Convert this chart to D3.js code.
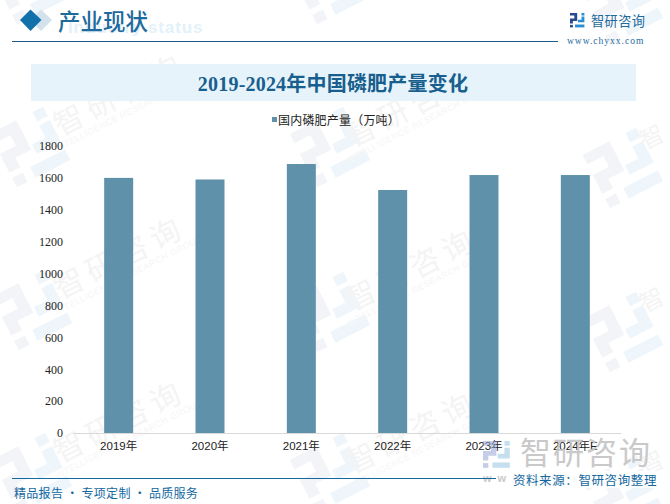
<!DOCTYPE html>
<html>
<head>
<meta charset="utf-8">
<script src="https://cdn.jsdelivr.net/npm/d3@7"></script>
<style>
  html, body { margin: 0; padding: 0; background: #fff; }
  svg { display: block; }
</style>
</head>
<body>
<script>
var categories = ["2019年", "2020年", "2021年", "2022年", "2023年", "2024年E"];
var output = [1600, 1590, 1687, 1524, 1618, 1618];
var yTicks = [0, 200, 400, 600, 800, 1000, 1200, 1400, 1600, 1800];

// watermark spots, logo and wordmark repeat across the page
var logoSpots = [[30, -16], [330, -16], [623, 5], [30, 147], [330, 147], [623, 168], [32, 310], [330, 312], [623, 332], [32, 473], [330, 473], [623, 495]];
var wordSpots = [[120, 95], [412, 106], [120, 258], [412, 270], [120, 422], [412, 433]];
var edgeSpots = [[660, 140], [660, 303], [660, 466]];

var width = 670,
    height = 504,
    cjk = "'Noto Sans CJK SC', sans-serif";

var svg = d3.select("body").append("svg")
    .attr("width", width)
    .attr("height", height);

// logo is two interlocking brackets, drawn on a 40 unit box
function drawLogo(g, c1, c2) {
  g.append("path").attr("fill", c1)
      .attr("d", "M0 0H20V22H8V29H0V15H12V7H0Z");
  g.append("rect").attr("fill", c1).attr("x", 0).attr("y", 33).attr("width", 8).attr("height", 7);
  g.append("path").attr("fill", c2)
      .attr("d", "M32 10H40V26H22V19H32Z");
  g.append("rect").attr("fill", c2).attr("x", 14).attr("y", 32).attr("width", 26).attr("height", 8);
  g.append("rect").attr("fill", c2).attr("x", 32).attr("y", 0).attr("width", 8).attr("height", 7);
}

var wm = svg.append("g");
logoSpots.forEach(function(p) {
  var g = wm.append("g")
      .attr("transform", "translate(" + p[0] + "," + p[1] + ") rotate(-27) scale(1.5) translate(-20,-20)");
  drawLogo(g, "#f2f4f8", "#eff6fb");
});
wordSpots.forEach(function(p) {
  var g = wm.append("g")
      .attr("transform", "translate(" + p[0] + "," + p[1] + ") rotate(-27)");
  g.append("text")
      .attr("y", 10)
      .attr("text-anchor", "middle")
      .attr("font-family", cjk)
      .attr("font-size", 30)
      .attr("letter-spacing", 6)
      .attr("fill", "#f4f4f4")
      .text("智研咨询");
  g.append("text")
      .attr("x", 0).attr("y", 22)
      .attr("text-anchor", "middle")
      .attr("font-family", "'Liberation Sans', sans-serif")
      .attr("font-size", 9)
      .attr("letter-spacing", 0.4)
      .attr("fill", "#f6f6f6")
      .text("INTELLIGENCE RESEARCH GROUP");
});
// at the right edge only the first character still fits
edgeSpots.forEach(function(p) {
  wm.append("text")
      .attr("transform", "translate(" + (p[0] - 15) + "," + (p[1] + 10) + ") rotate(-27)")
      .attr("font-family", cjk)
      .attr("font-size", 24)
      .attr("fill", "#f4f4f4")
      .text("智");
});

// header
svg.append("text")
    .attr("x", 68).attr("y", 33)
    .attr("font-family", "'Liberation Sans', sans-serif")
    .attr("font-weight", "bold")
    .attr("font-size", 17)
    .attr("letter-spacing", 0.9)
    .attr("fill", "#e3f1fa")
    .text("Industry status");
svg.append("path").attr("fill", "#d2e3ee").attr("d", "M41 9.500L52 20L41 31L30 20Z");
svg.append("path").attr("fill", "#1270ab").attr("d", "M30.500 9.500L41.500 20L30.500 31L20 20Z");
svg.append("text")
    .attr("x", 58).attr("y", 29.500)
    .attr("font-family", cjk)
    .attr("font-size", 22.500)
    .attr("font-weight", 500)
    .attr("fill", "#1d6a9c")
    .text("产业现状");
svg.append("line")
    .attr("x1", 12).attr("x2", 558).attr("y1", 41.500).attr("y2", 41.500)
    .attr("stroke", "#1c5c86").attr("stroke-width", 1);

// top right brand
var brand = svg.append("g").attr("transform", "translate(570,13) scale(0.36)");
drawLogo(brand, "#2a4a8f", "#2a8fd0");
svg.append("text")
    .attr("x", 591).attr("y", 26)
    .attr("font-family", cjk)
    .attr("font-size", 13.200)
    .attr("letter-spacing", 0.4)
    .attr("fill", "#1d6a9c")
    .text("智研咨询");
svg.append("text")
    .attr("x", 567).attr("y", 44)
    .attr("font-family", "'Liberation Serif', serif")
    .attr("font-size", 9.500)
    .attr("letter-spacing", 1)
    .attr("fill", "#1d6a9c")
    .text("www.chyxx.com");

// title band
svg.append("rect")
    .attr("x", 31).attr("y", 64).attr("width", 605).attr("height", 37)
    .attr("fill", "#e6f3fb");
svg.append("text")
    .attr("x", 333).attr("y", 91)
    .attr("text-anchor", "middle")
    .attr("font-family", "'Liberation Serif', 'Noto Sans CJK SC', serif")
    .attr("font-weight", "bold")
    .attr("font-size", 20)
    .attr("letter-spacing", 0.2)
    .attr("fill", "#185f8e")
    .text("2019-2024年中国磷肥产量变化");

// legend
svg.append("rect")
    .attr("x", 272).attr("y", 117).attr("width", 5).attr("height", 5)
    .attr("fill", "#5f92aa");
svg.append("text")
    .attr("x", 278).attr("y", 125)
    .attr("font-family", cjk)
    .attr("font-size", 12)
    .attr("letter-spacing", 0.2)
    .attr("fill", "#222")
    .text("国内磷肥产量（万吨）");

// chart
var x = d3.scaleBand().domain(categories).range([73, 621]);
var y = d3.scaleLinear().domain([0, 1800]).range([433, 146]);

svg.append("g")
    .selectAll("rect")
    .data(output)
    .join("rect")
    .attr("x", function(d, i) { return x(categories[i]) + x.bandwidth() / 2 - 14.500; })
    .attr("y", function(d) { return y(d); })
    .attr("width", 29)
    .attr("height", function(d) { return y(0) - y(d); })
    .attr("fill", "#5f92aa");

var xAxis = svg.append("g")
    .attr("transform", "translate(0,433)")
    .call(d3.axisBottom(x).tickSize(0).tickPadding(9));
xAxis.select(".domain").attr("stroke", "#d9d9d9").attr("stroke-width", 1.2);
xAxis.selectAll("text")
    .attr("font-family", "'Liberation Sans', 'Noto Sans CJK SC', sans-serif")
    .attr("font-size", 11.500)
    .attr("fill", "#222");

var yAxis = svg.append("g")
    .attr("transform", "translate(73,0)")
    .call(d3.axisLeft(y).tickValues(yTicks).tickFormat(d3.format("d")).tickSize(0).tickPadding(10));
yAxis.select(".domain").remove();
yAxis.selectAll("text")
    .attr("font-family", "'Liberation Serif', serif")
    .attr("font-size", 12)
    .attr("fill", "#222");

// big source watermark, sits over the axis labels
var mark = svg.append("g");
var markLogo = mark.append("g").attr("transform", "translate(483,441) scale(0.67)").attr("opacity", 0.5);
drawLogo(markLogo, "#8f9fd0", "#8fc0e0");
mark.append("text")
    .attr("x", 520).attr("y", 464)
    .attr("font-family", cjk)
    .attr("font-size", 31)
    .attr("letter-spacing", 2)
    .attr("fill", "#c4c4c4")
    .attr("opacity", 0.9)
    .text("智研咨询");
mark.append("text")
    .attr("x", 483).attr("y", 482)
    .attr("font-family", "'Liberation Sans', sans-serif")
    .attr("font-weight", "bold")
    .attr("font-size", 11)
    .attr("letter-spacing", 6)
    .attr("fill", "#c9c9c9")
    .text("www.chyxx.com");

// footer
svg.append("line")
    .attr("x1", 12).attr("x2", 496).attr("y1", 478.500).attr("y2", 478.500)
    .attr("stroke", "#15689f").attr("stroke-width", 1);
svg.append("text")
    .attr("x", 14).attr("y", 498)
    .attr("font-family", cjk)
    .attr("font-size", 12)
    .attr("letter-spacing", 0.3)
    .attr("fill", "#14689f")
    .text("精品报告 · 专项定制 · 品质服务");
svg.append("rect")
    .attr("x", 510).attr("y", 471).attr("width", 150).attr("height", 17)
    .attr("fill", "#fff").attr("opacity", 0.85);
svg.append("text")
    .attr("x", 657).attr("y", 485)
    .attr("text-anchor", "end")
    .attr("font-family", cjk)
    .attr("font-size", 12.500)
    .attr("letter-spacing", 0.6)
    .attr("fill", "#14689f")
    .text("资料来源：智研咨询整理");
</script>
</body>
</html>
